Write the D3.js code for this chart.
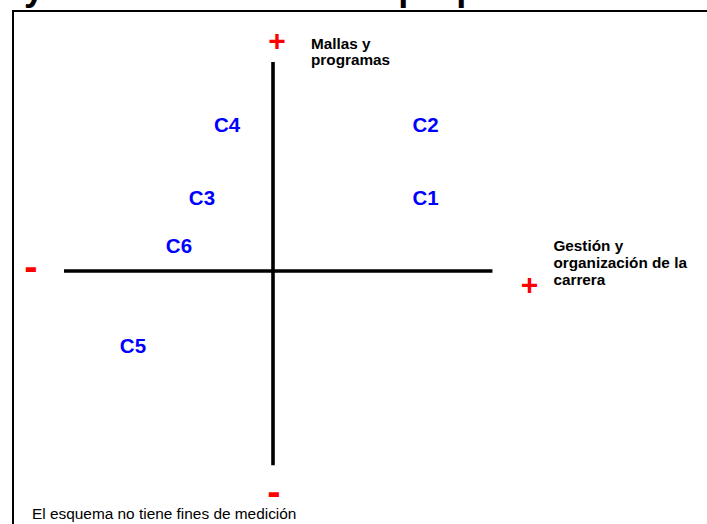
<!DOCTYPE html>
<html>
<head>
<meta charset="utf-8">
<script src="https://cdn.jsdelivr.net/npm/d3@7"></script>
<style>
  html, body { margin: 0; padding: 0; background: #fff; overflow: hidden; }
  svg { display: block; font-family: Arial, "Liberation Sans", sans-serif; }
</style>
</head>
<body>
<div id="chart"></div>
<script>
// careers plotted on the two dimensions
const labels = ["C1", "C2", "C3", "C4", "C5", "C6"];
const gestion = [7.3, 7.3, -3.4, -2.2, -6.7, -4.5];
const mallas = [3.5, 7.0, 3.5, 7.0, -3.6, 1.2];

// how far each axis line runs
const xExtent = [-10, 10.5];
const yExtent = [-9.3, 10];

const xTitle = ["Gestión y", "organización de la", "carrera"];
const yTitle = ["Mallas y", "programas"];
const title = "y la coherencia de su propuesta curricular";
const note = "El esquema no tiene fines de medición";

const width = 707, height = 524;

const x = d3.scaleLinear().domain([-10, 10]).range([64, 482]);
const y = d3.scaleLinear().domain([-10, 10]).range([480, 62]);

const svg = d3.select("#chart").append("svg")
    .attr("width", width)
    .attr("height", height);

// slide title, cut off at the top
svg.append("text")
    .attr("x", 24)
    .attr("y", 0)
    .style("font-size", "36px")
    .style("font-weight", "bold")
    .text(title);

// frame (top and left edges only visible)
svg.append("path")
    .attr("d", `M13,${height + 5}V11H${width + 5}`)
    .attr("fill", "none")
    .attr("stroke", "#000")
    .attr("stroke-width", 2);

// axes
svg.append("line")
    .attr("x1", x(xExtent[0])).attr("x2", x(xExtent[1]))
    .attr("y1", y(0)).attr("y2", y(0))
    .attr("stroke", "#000").attr("stroke-width", 3.6);

svg.append("line")
    .attr("x1", x(0)).attr("x2", x(0))
    .attr("y1", y(yExtent[0])).attr("y2", y(yExtent[1]))
    .attr("stroke", "#000").attr("stroke-width", 3.6);

// red + / - signs at the axis ends
const sign = (px, py, s, size) => svg.append("text")
    .attr("x", px).attr("y", py)
    .attr("text-anchor", "middle")
    .attr("fill", "#ff0000")
    .style("font-size", size + "px")
    .style("font-weight", "bold")
    .text(s);

sign(x(0) + 4, y(yExtent[1]) - 11, "+", 30);
sign(x(xExtent[1]) + 37, y(0) + 24, "+", 30);
sign(x(xExtent[0]) - 33, y(0) + 9, "-", 40);
sign(x(0) + 1, y(yExtent[0]) + 40, "-", 40);

// axis titles
svg.append("text")
    .attr("x", x(0) + 38)
    .attr("y", 49)
    .style("font-size", "15.3px")
    .style("font-weight", "bold")
    .selectAll("tspan")
    .data(yTitle)
    .join("tspan")
    .attr("x", x(0) + 38)
    .attr("dy", (d, i) => i ? 15.5 : 0)
    .text(d => d);

svg.append("text")
    .attr("x", x(xExtent[1]) + 61)
    .attr("y", 251)
    .style("font-size", "15.3px")
    .style("font-weight", "bold")
    .selectAll("tspan")
    .data(xTitle)
    .join("tspan")
    .attr("x", x(xExtent[1]) + 61)
    .attr("dy", (d, i) => i ? 17 : 0)
    .text(d => d);

// career labels
svg.append("g")
    .selectAll("text")
    .data(labels)
    .join("text")
    .attr("x", (d, i) => x(gestion[i]))
    .attr("y", (d, i) => y(mallas[i]))
    .attr("dy", "0.35em")
    .attr("text-anchor", "middle")
    .attr("fill", "#0000ff")
    .style("font-size", "20.5px")
    .style("font-weight", "bold")
    .text(d => d);

// footnote
svg.append("text")
    .attr("x", 32)
    .attr("y", 519)
    .style("font-size", "15.4px")
    .text(note);
</script>
</body>
</html>
